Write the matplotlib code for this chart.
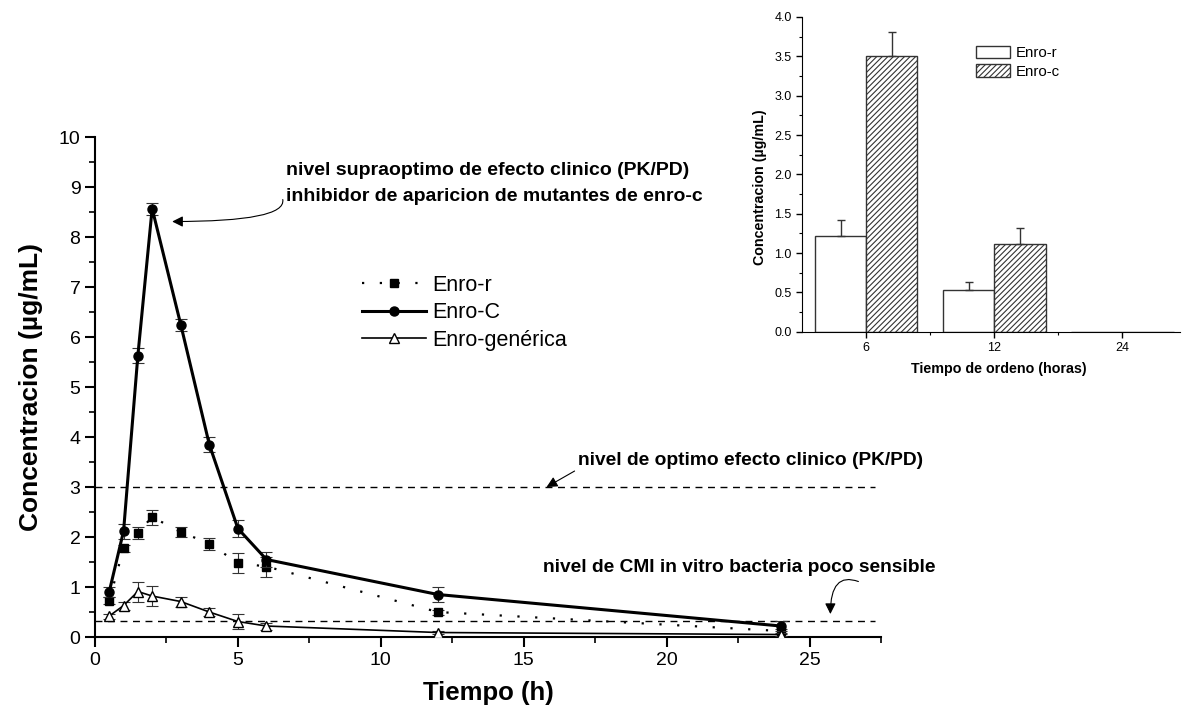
import matplotlib
matplotlib.use('Agg')
import matplotlib.pyplot as plt
from matplotlib.lines import Line2D
import numpy as np

plt.rcParams['font.family'] = ['Liberation Sans', 'DejaVu Sans']
plt.rcParams['hatch.linewidth'] = 0.8

# datos principales (tiempo en horas, concentracion en ug/mL)
tiempo = [0.5, 1, 1.5, 2, 3, 4, 5, 6, 12, 24]
enro_r = [0.73, 1.78, 2.09, 2.40, 2.10, 1.87, 1.48, 1.41, 0.50, 0.12]
enro_r_err = [0.07, 0.07, 0.12, 0.15, 0.10, 0.12, 0.20, 0.20, 0.05, 0.05]
enro_c = [0.91, 2.12, 5.63, 8.57, 6.25, 3.85, 2.17, 1.55, 0.85, 0.22]
enro_c_err = [0.10, 0.15, 0.15, 0.12, 0.12, 0.15, 0.17, 0.15, 0.15, 0.10]
enro_gen = [0.42, 0.63, 0.91, 0.82, 0.71, 0.50, 0.31, 0.22, 0.09, 0.05]
enro_gen_err = [0.05, 0.08, 0.20, 0.20, 0.10, 0.08, 0.15, 0.07, 0.03, 0.03]

nivel_optimo = 3.0
nivel_cmi = 0.33

# datos del grafico de barras (leche)
ordeno = ['6', '12', '24']
barra_r = [1.22, 0.53, 0.0]
barra_r_err = [0.20, 0.10, 0.0]
barra_c = [3.51, 1.12, 0.0]
barra_c_err = [0.30, 0.20, 0.0]

fig = plt.figure(figsize=(11.83, 7.06), dpi=100)
ax = fig.add_axes([0.0803, 0.0977, 0.6644, 0.7082])

ebc = '#333333'
estilos = [
    (enro_r, enro_r_err, dict(ls=(0, (1, 7)), lw=1.6, marker='s', ms=5.5, mfc='black'), 'Enro-r'),
    (enro_c, enro_c_err, dict(ls='-', lw=2.2, marker='o', ms=6.5, mfc='black'), 'Enro-C'),
    (enro_gen, enro_gen_err, dict(ls='-', lw=1.2, marker='^', ms=7, mfc='white'), 'Enro-genérica'),
]
handles = []
for z, (y, e, st, lab) in enumerate(estilos):
    ax.errorbar(tiempo, y, yerr=e, fmt='none', ecolor=ebc, elinewidth=0.8,
                capsize=4, capthick=0.8, zorder=3 + z)
    ax.plot(tiempo, y, color='black', mec='black', zorder=3 + z, **st)
    handles.append(Line2D([], [], color='black', mec='black', label=lab, **st))

ax.hlines([nivel_optimo, nivel_cmi], 0, 27.3, colors='black', linestyles=(0, (5, 4)), lw=1)

ax.set_xlim(0, 27.5)
ax.set_ylim(0, 10)
ax.set_xticks([0, 5, 10, 15, 20, 25])
ax.set_xticks(np.arange(2.5, 28, 5), minor=True)
ax.set_yticks(range(0, 11))
ax.set_yticks(np.arange(0.5, 10, 1), minor=True)
for s in ['top', 'right']:
    ax.spines[s].set_visible(False)
for s in ['left', 'bottom']:
    ax.spines[s].set_linewidth(1.5)
ax.tick_params(which='major', length=7, width=1.5, labelsize=14)
ax.tick_params(which='minor', length=4, width=1.2)
ax.set_xlabel('Tiempo (h)', fontsize=18.5, fontweight='bold', labelpad=9)
ax.set_ylabel('Concentracion (µg/mL)', fontsize=19, fontweight='bold', labelpad=11)

ax.legend(handles=handles, loc='upper left', bbox_to_anchor=(0.306, 0.611),
          bbox_transform=fig.transFigure, frameon=False, fontsize=15.5,
          handlelength=2.95, handletextpad=0.33, labelspacing=0.31,
          borderpad=0, borderaxespad=0)

# anotaciones
fs = 14
flecha = dict(arrowstyle='-|>', color='black', lw=0.8, mutation_scale=16,
              shrinkA=0, shrinkB=0)
ax.text(6.7, 9.33, 'nivel supraoptimo de efecto clinico (PK/PD)', fontsize=fs,
        fontweight='bold', va='center')
ax.text(6.7, 8.81, 'inhibidor de aparicion de mutantes de enro-c', fontsize=fs,
        fontweight='bold', va='center')
ax.annotate('', xy=(2.7, 8.31), xytext=(6.57, 8.75),
            arrowprops=dict(connectionstyle='angle3,angleA=100,angleB=0', **flecha))
ax.text(16.89, 3.53, 'nivel de optimo efecto clinico (PK/PD)', fontsize=13.8,
        fontweight='bold', va='center')
ax.annotate('', xy=(15.8, 3.0), xytext=(16.78, 3.32), arrowprops=flecha)
ax.text(15.66, 1.39, 'nivel de CMI in vitro bacteria poco sensible', fontsize=13.8,
        fontweight='bold', va='center')
ax.annotate('', xy=(25.73, 0.46), xytext=(26.71, 1.11), annotation_clip=False,
            arrowprops=dict(connectionstyle='angle3,angleA=-20,angleB=90', **flecha))

# grafico insertado de barras
ax2 = fig.add_axes([0.678, 0.530, 0.3195, 0.446])
pos = np.arange(1, len(ordeno) + 1)
w = 0.4
edge = '#333333'
ax2.bar(pos - w / 2, barra_r, w, color='white', edgecolor=edge, lw=1, label='Enro-r')
ax2.errorbar(pos[:2] - w / 2, barra_r[:2], yerr=[[0, 0], barra_r_err[:2]], fmt='none',
             ecolor=edge, elinewidth=1, capsize=3, capthick=1)
ax2.bar(pos + w / 2, barra_c, w, color='white', edgecolor=edge, lw=1, hatch='//////',
        label='Enro-c')
ax2.errorbar(pos[:2] + w / 2, barra_c[:2], yerr=[[0, 0], barra_c_err[:2]], fmt='none',
             ecolor=edge, elinewidth=1, capsize=3, capthick=1)
ax2.set_xlim(0.5, 3.45)
ax2.set_ylim(0, 4.0)
ax2.set_xticks(pos)
ax2.set_xticklabels(ordeno)
ax2.set_xticks([1.5, 2.5], minor=True)
ax2.set_yticks(np.arange(0, 4.01, 0.5))
ax2.set_yticks(np.arange(0.25, 4, 0.5), minor=True)
ax2.yaxis.set_major_formatter(matplotlib.ticker.FormatStrFormatter('%.1f'))
for s in ['top', 'right']:
    ax2.spines[s].set_visible(False)
ax2.tick_params(which='major', length=4, width=1, labelsize=9)
ax2.tick_params(which='minor', length=2, width=0.8)
ax2.set_xlabel('Tiempo de ordeno (horas)', fontsize=10.3, fontweight='bold')
ax2.set_ylabel('Concentracion (µg/mL)', fontsize=10.3, fontweight='bold')
ax2.xaxis.set_label_coords(0.52, -0.095)
ax2.yaxis.set_label_coords(-0.094, 0.46)
ax2.legend(loc='upper left', bbox_to_anchor=(0.459, 0.909), frameon=False, fontsize=10.8,
           handlelength=2.3, handleheight=0.9, handletextpad=0.35, labelspacing=0.3,
           borderpad=0, borderaxespad=0)

fig.savefig('out.png', dpi=100, facecolor='white')
